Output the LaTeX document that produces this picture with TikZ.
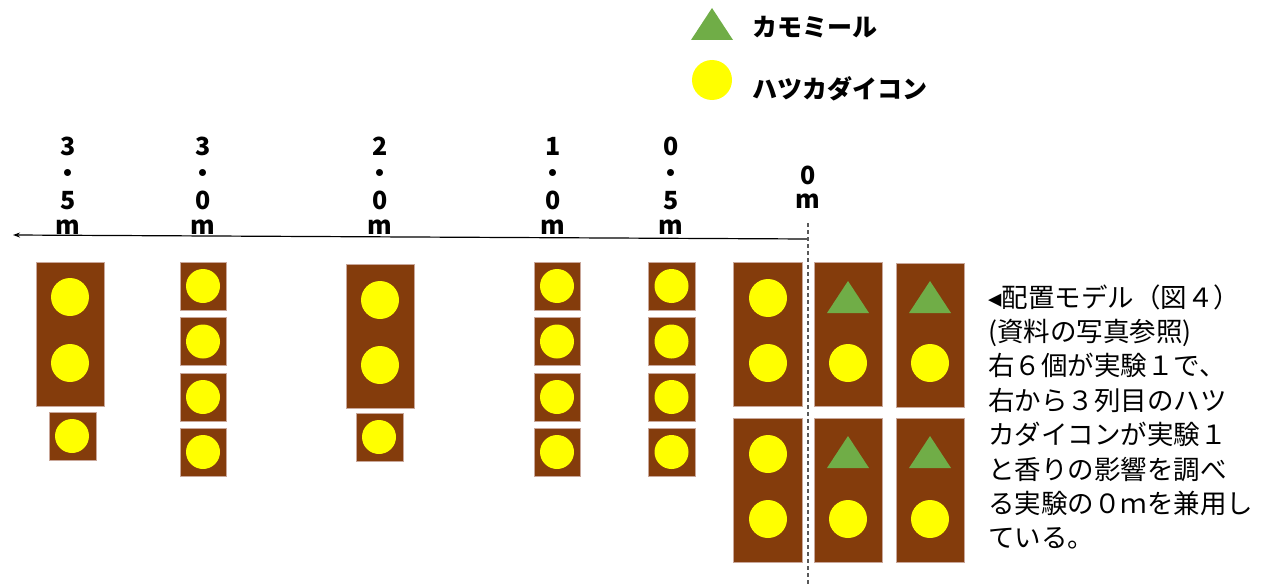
\documentclass[tikz,border=0pt]{standalone}
\usepackage{fontspec}
\usetikzlibrary{arrows.meta}
\newfontfamily\cjk{Noto Sans CJK JP}
\newfontfamily\djv{DejaVu Sans}
\definecolor{soil}{HTML}{843C0C}
\definecolor{soiledge}{HTML}{C9A79A}
\definecolor{radish}{HTML}{FFFF00}
\definecolor{chamo}{HTML}{70AD47}
\tikzset{
  bed/.style={rectangle, fill=soil, draw=soiledge, line width=0.6pt, inner sep=0pt},
  bigbed/.style={bed, minimum width=68pt, minimum height=144pt},
  smallbed/.style={bed, minimum width=47pt, minimum height=48pt},
  seed/.style={circle, fill=radish, inner sep=0pt, minimum size=34pt},
  bigseed/.style={seed, minimum size=38pt},
  dist/.style={anchor=base, inner sep=0pt, font=\cjk\bfseries\fontsize{25}{25}\selectfont},
  legtext/.style={anchor=base west, inner sep=0pt, font=\cjk\bfseries\fontsize{25}{25}\selectfont},
  note/.style={anchor=base west, inner sep=0pt, font=\cjk\fontsize{26.5}{26.5}\selectfont},
  axis/.style={line width=1.2pt, -{Stealth[length=7pt,width=5pt]}},
  zeroline/.style={gray!70!black, line width=1.2pt, dash pattern=on 4pt off 3pt}
}
\newcommand\chamotri[2]{\fill[chamo] ({#1-21},{#2+32}) -- (#1,#2) -- ({#1+21},{#2+32}) -- cycle;}
\newcommand\vlab[5]{%
  \node[dist] (#1a) at (#2,155) {#3};
  \node[dist] (#1b) at (#2,182) {・};
  \node[dist] (#1c) at (#2,209) {#4};
  \node[dist] (#1d) at (#2,234) {#5};}
\begin{document}
\begin{tikzpicture}[x=1pt,y=-1pt]
\useasboundingbox (0,0) rectangle (1261,586);

% legend
\chamotri{712}{8}
\node[legtext] (legC) at (752,37) {カモミール};
\node[seed, minimum size=40pt] (legR) at (712,80) {};
\node[legtext] (legH) at (752,99) {ハツカダイコン};

% distance labels
\vlab{l35}{68}{3}{5}{m}
\vlab{l30}{203}{3}{0}{m}
\vlab{l20}{380}{2}{0}{m}
\vlab{l10}{553}{1}{0}{m}
\vlab{l05}{671}{0}{5}{m}
\node[dist] (l0a) at (808,184) {0};
\node[dist] (l0b) at (808,208) {m};

% axis and zero line
\coordinate (zero) at (808,239);
\coordinate (far) at (13,235);
\draw[axis] (zero) -- (far);
\coordinate (dtop) at (808,223);
\coordinate (dbot) at (808,586);
\draw[zeroline] (dtop) -- (dbot);

% 3.5 m
\node[bigbed] (a1) at (70,334) {};
\node[bigseed] (a1s1) at (70,297) {};
\node[bigseed] (a1s2) at (70,363) {};
\node[smallbed] (a2) at (72.5,436) {};
\node[seed] (a2s) at (72,436) {};

% 3.0 m
\node[smallbed, minimum width=46pt] (b1) at (203,286) {};
\node[smallbed, minimum width=46pt] (b2) at (203,341.5) {};
\node[smallbed, minimum width=46pt] (b3) at (203,397) {};
\node[smallbed, minimum width=46pt] (b4) at (203,452) {};
\node[seed] (b1s) at (203,286) {};
\node[seed] (b2s) at (203,341.5) {};
\node[seed] (b3s) at (203,397) {};
\node[seed] (b4s) at (203,452) {};

% 2.0 m
\node[bigbed] (c1) at (380,336) {};
\node[bigseed] (c1s1) at (380,300) {};
\node[bigseed] (c1s2) at (380,365) {};
\node[smallbed] (c2) at (379.5,437) {};
\node[seed] (c2s) at (379,437) {};

% 1.0 m
\node[smallbed, minimum width=46pt] (d1) at (557,286) {};
\node[smallbed, minimum width=46pt] (d2) at (557,341.5) {};
\node[smallbed, minimum width=46pt] (d3) at (557,397) {};
\node[smallbed, minimum width=46pt] (d4) at (557,452) {};
\node[seed] (d1s) at (557,286) {};
\node[seed] (d2s) at (557,341.5) {};
\node[seed] (d3s) at (557,397) {};
\node[seed] (d4s) at (557,452) {};

% 0.5 m
\node[smallbed] (e1) at (671.5,286) {};
\node[smallbed] (e2) at (671.5,341.5) {};
\node[smallbed] (e3) at (671.5,397) {};
\node[smallbed] (e4) at (671.5,452) {};
\node[seed] (e1s) at (671.5,286) {};
\node[seed] (e2s) at (671.5,341.5) {};
\node[seed] (e3s) at (671.5,397) {};
\node[seed] (e4s) at (671.5,452) {};

% 0 m group
\node[bigbed, minimum width=69pt] (f1) at (767.5,334) {};
\node[bigbed, minimum width=69pt] (f2) at (767.5,490) {};
\node[bigseed] (f1s1) at (768,298) {};
\node[bigseed] (f1s2) at (768,363) {};
\node[bigseed] (f2s1) at (768,454) {};
\node[bigseed] (f2s2) at (768,519) {};

\node[bigbed] (g1) at (848,334) {};
\node[bigbed] (g2) at (848,490) {};
\chamotri{848}{281}
\chamotri{848}{436}
\node[bigseed] (g1s) at (848,363) {};
\node[bigseed] (g2s) at (848,519) {};

\node[bigbed] (h1) at (930,335) {};
\node[bigbed] (h2) at (930,490) {};
\chamotri{930}{281}
\chamotri{930}{436}
\node[bigseed] (h1s) at (930,363) {};
\node[bigseed] (h2s) at (930,519) {};

% note
\node[note] (n1) at (988,307) {{\djv ◂}配置モデル（図４）};
\node[note] (n2) at (988,341.4) {(資料の写真参照)};
\node[note] (n3) at (988,375.8) {右６個が実験１で、};
\node[note] (n4) at (988,410.2) {右から３列目のハツ};
\node[note] (n5) at (988,444.6) {カダイコンが実験１};
\node[note] (n6) at (988,479) {と香りの影響を調べ};
\node[note] (n7) at (988,513.4) {る実験の０ｍを兼用し};
\node[note] (n8) at (988,547.8) {ている。};
\end{tikzpicture}
\end{document}
